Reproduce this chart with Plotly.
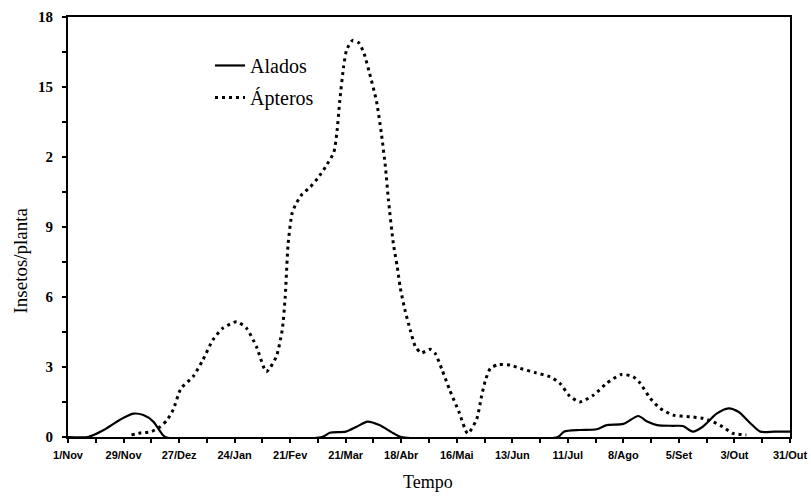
import plotly.graph_objects as go

# Days since 1/Nov
alados_x = [0, 10, 18, 26, 33, 38, 43, 46, 49, 128, 132, 140, 145.5, 151, 157, 164, 168,
            247, 250, 258, 266.5, 271.5, 280, 287.5, 292, 297, 305, 310, 315, 320, 327, 333,
            338, 344, 349, 356, 364]
alados_y = [0, 0, 0.3, 0.73, 1.0, 0.94, 0.66, 0.3, 0, 0, 0.18, 0.23, 0.44, 0.66, 0.51, 0.16, 0,
            0, 0.23, 0.3, 0.33, 0.51, 0.56, 0.9, 0.66, 0.51, 0.48, 0.47, 0.23, 0.44, 1.0, 1.23,
            1.08, 0.59, 0.23, 0.23, 0.23]

apteros_x = [32, 37, 42, 46.5, 50, 53, 57, 63, 68, 73, 78, 85, 90, 95, 100, 105, 108, 109.5,
             111, 113, 115, 118, 122, 126, 130, 134, 135.5, 137, 139, 140.5, 143.5, 146.5, 149,
             152, 155.5, 158, 160, 161.5, 164, 166, 167.5, 170, 172.5, 175, 178, 182.5, 185,
             188.5, 192.5, 197, 201.5, 206, 208.5, 210.5, 213, 217, 223, 228, 236, 243, 248,
             253, 258, 265, 271.5, 279, 285, 288.5, 293.5, 298.5, 305, 313.5, 320, 325, 330,
             335, 342]
apteros_y = [0.09, 0.18, 0.23, 0.44, 0.73, 1.16, 2.09, 2.58, 3.3, 4.16, 4.66, 4.94, 4.66, 3.87,
             2.8, 3.44, 4.59, 6.0, 8.3, 9.6, 10.0, 10.4, 10.7, 11.1, 11.6, 12.2, 13.0, 14.4,
             15.9, 16.6, 17.0, 16.9, 16.5, 15.6, 14.4, 13.0, 11.6, 10.2, 8.3, 7.3, 6.4, 5.4,
             4.6, 3.9, 3.6, 3.76, 3.6, 2.9, 2.0, 1.1, 0.15, 0.75, 1.75, 2.45, 2.95, 3.1, 3.08,
             2.94, 2.75, 2.58, 2.3, 1.75, 1.5, 1.8, 2.3, 2.68, 2.58, 2.3, 1.66, 1.23, 0.94,
             0.87, 0.8, 0.66, 0.44, 0.16, 0.09]

x_tickvals = [0, 28, 56, 84, 112, 140, 168, 196, 224, 252, 280, 308, 336, 364]
x_ticktext = ["1/Nov", "29/Nov", "27/Dez", "24/Jan", "21/Fev", "21/Mar", "18/Abr", "16/Mai",
              "13/Jun", "11/Jul", "8/Ago", "5/Set", "3/Out", "31/Out"]
y_tickvals = [0, 3, 6, 9, 12, 15, 18]
y_ticktext = ["0", "3", "6", "9", "2", "15", "18"]

serif = "Liberation Serif, Times New Roman, serif"
sans = "Liberation Sans, Arial, sans-serif"

fig = go.Figure()
fig.add_trace(go.Scatter(x=alados_x, y=alados_y, mode="lines", name="Alados",
                         legendgroup="a",
                         line=dict(color="black", width=2.2, shape="spline", smoothing=0.7)))
fig.add_trace(go.Scatter(x=apteros_x, y=apteros_y, mode="lines", name="Ápteros",
                         legendgroup="b",
                         line=dict(color="black", width=3, dash="3px,4px", shape="spline",
                                   smoothing=0.6)))

fig.update_layout(
    width=811, height=498,
    margin=dict(l=68, r=21, t=17, b=61, autoexpand=False),
    plot_bgcolor="white", paper_bgcolor="white",
    showlegend=True,
    legend=dict(x=0.1967, y=0.931, xanchor="left", yanchor="top",
                font=dict(family=serif, size=20, color="black"),
                bgcolor="rgba(0,0,0,0)", traceorder="grouped", tracegroupgap=3,
                itemwidth=30),
    xaxis=dict(range=[0, 364], tickvals=x_tickvals, ticktext=x_ticktext, automargin=False,
               showgrid=False, zeroline=False, showline=True, linecolor="black",
               linewidth=2, mirror=True, ticks="outside", ticklen=4, tickwidth=1.5,
               tickcolor="black", ticklabelstandoff=3,
               tickfont=dict(family=sans, size=11, color="black", weight="bold"),
               minor=dict(dtick=14, tick0=0, ticks="outside", ticklen=4, tickwidth=1.5,
                          tickcolor="black", showgrid=False)),
    yaxis=dict(range=[0, 18], tickvals=y_tickvals, ticktext=y_ticktext, automargin=False,
               showgrid=False, zeroline=False, showline=True, linecolor="black",
               linewidth=2, mirror=True, ticks="outside", ticklen=4, tickwidth=1.5,
               tickcolor="black", ticklabelstandoff=6,
               tickfont=dict(family=serif, size=15, color="black", weight=700),
               minor=dict(dtick=1.5, tick0=0, ticks="outside", ticklen=4, tickwidth=1.5,
                          tickcolor="black", showgrid=False)),
    annotations=[
        dict(text="Tempo", x=0.4986, y=-0.107, xref="paper", yref="paper",
             showarrow=False, xanchor="center", yanchor="middle",
             font=dict(family=serif, size=18, color="black")),
        dict(text="Insetos/planta", x=-0.066, y=0.421, xref="paper", yref="paper",
             showarrow=False, xanchor="center", yanchor="middle", textangle=-90,
             font=dict(family=serif, size=19, color="black")),
    ],
)

# remove the default 8px page margin so the 811x498 figure fills the window exactly
fig.write_html("out.html", config={"displayModeBar": False},
               post_script="document.body.style.margin='0';document.body.style.overflow='hidden';")
